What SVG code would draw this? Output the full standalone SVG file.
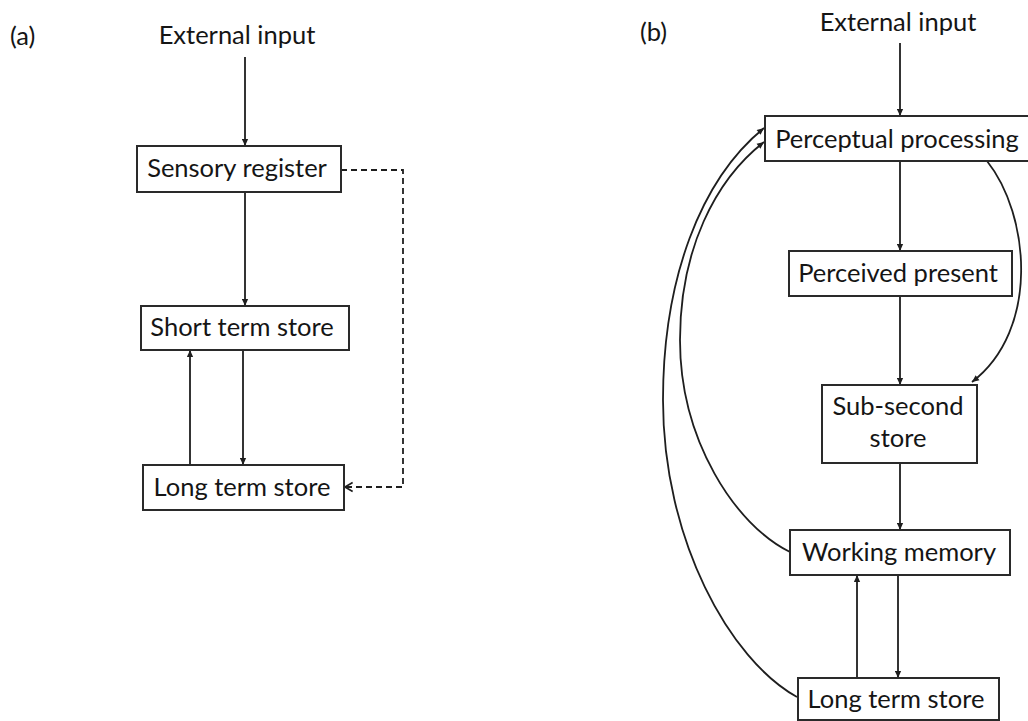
<svg xmlns="http://www.w3.org/2000/svg" width="1028" height="721" viewBox="0 0 1028 721">
<style>
text{font-family:Lato,"Liberation Sans",sans-serif;font-size:25.5px;fill:#151515;text-anchor:middle}
.lbl{text-anchor:start}
.box{fill:#fff;stroke:#2a2a2a;stroke-width:2}
.ln{fill:none;stroke:#1e1e1e;stroke-width:1.8}
.dash{fill:none;stroke:#1e1e1e;stroke-width:1.8;stroke-dasharray:6 4}
</style>
<defs>
<marker id="ah" viewBox="0 0 10 10" refX="10" refY="5" markerWidth="8" markerHeight="7" markerUnits="userSpaceOnUse" orient="auto"><path d="M0,0.5 L10,5 L0,9.5 z" fill="#1e1e1e"/></marker>
<marker id="chev" viewBox="0 0 10 12" refX="9.5" refY="6" markerWidth="9" markerHeight="12" markerUnits="userSpaceOnUse" orient="auto"><path d="M1,1 L9.5,6 L1,11" fill="none" stroke="#1e1e1e" stroke-width="1.8"/></marker>
</defs>
<rect width="1028" height="721" fill="#fff"/>
<text class="lbl" x="10" y="45">(a)</text>
<text class="lbl" x="640" y="41">(b)</text>
<g id="connectors">
<line class="ln" x1="245" y1="57" x2="245" y2="146" marker-end="url(#ah)"/>
<line class="ln" x1="245" y1="192" x2="245" y2="306" marker-end="url(#ah)"/>
<line class="ln" x1="190" y1="465" x2="190" y2="350" marker-end="url(#ah)"/>
<line class="ln" x1="243" y1="350" x2="243" y2="465" marker-end="url(#ah)"/>
<polyline class="dash" points="341,170 403,170 403,487 345,487" marker-end="url(#chev)"/>
<line class="ln" x1="900" y1="43" x2="900" y2="116" marker-end="url(#ah)"/>
<line class="ln" x1="900" y1="161" x2="900" y2="251" marker-end="url(#ah)"/>
<line class="ln" x1="900" y1="296" x2="900" y2="385" marker-end="url(#ah)"/>
<path class="ln" d="M987,161 C1030,215 1040,330 972,382" marker-end="url(#ah)"/>
<line class="ln" x1="900" y1="463" x2="900" y2="530" marker-end="url(#ah)"/>
<line class="ln" x1="857" y1="678" x2="857" y2="575" marker-end="url(#ah)"/>
<line class="ln" x1="898" y1="575" x2="898" y2="678" marker-end="url(#ah)"/>
<path class="ln" d="M790,552 C735,525 680,440 680,340 C680,250 715,180 764,142" marker-end="url(#ah)"/>
<path class="ln" d="M797,697 C730,660 663,540 663,400 C663,280 700,180 764,128" marker-end="url(#ah)"/>
</g>
<g id="a-external"><text x="237" y="44">External input</text></g>
<g id="a-sensory"><rect class="box" x="137" y="146" width="204" height="46"/><text x="237" y="177">Sensory register</text></g>
<g id="a-short"><rect class="box" x="141" y="306" width="208" height="44"/><text x="242" y="336">Short term store</text></g>
<g id="a-long"><rect class="box" x="143" y="465" width="201" height="45"/><text x="242" y="496">Long term store</text></g>
<g id="b-external"><text x="898" y="31">External input</text></g>
<g id="b-perceptual"><rect class="box" x="765" y="116" width="265" height="45"/><text x="897" y="148">Perceptual processing</text></g>
<g id="b-perceived"><rect class="box" x="789" y="251" width="223" height="45"/><text x="898" y="282">Perceived present</text></g>
<g id="b-subsecond"><rect class="box" x="822" y="385" width="155" height="78"/><text x="898" y="415">Sub-second</text><text x="898" y="447">store</text></g>
<g id="b-working"><rect class="box" x="790" y="530" width="220" height="45"/><text x="899" y="561">Working memory</text></g>
<g id="b-long"><rect class="box" x="798" y="678" width="201" height="42"/><text x="896" y="708">Long term store</text></g>
</svg>
